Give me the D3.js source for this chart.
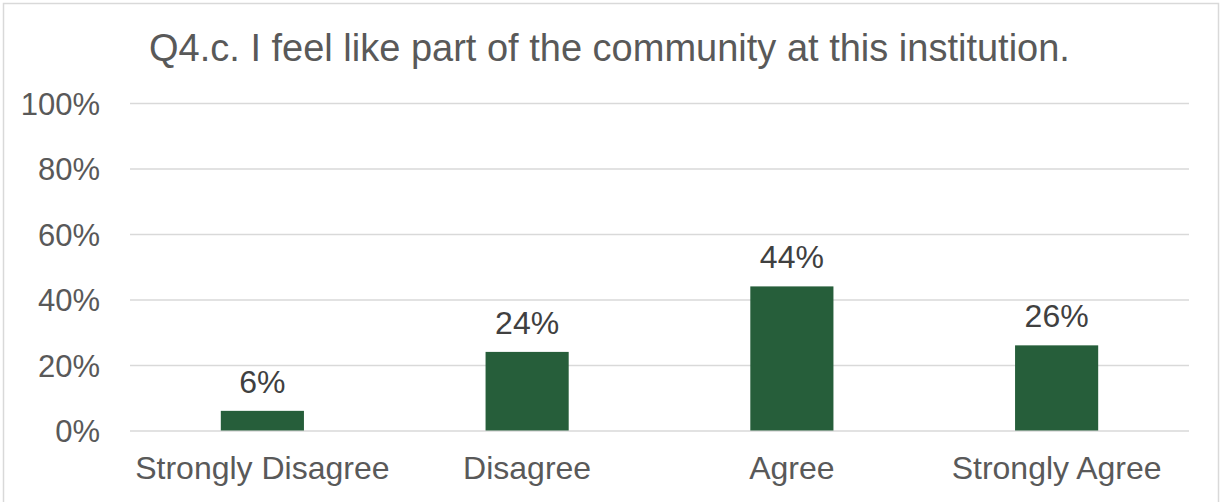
<!DOCTYPE html>
<html>
<head>
<meta charset="utf-8">
<script src="https://cdn.jsdelivr.net/npm/d3@7"></script>
<style>
  html, body { margin: 0; padding: 0; background: #fff; }
  svg { display: block; font-family: Arial, "Liberation Sans", sans-serif; }
</style>
</head>
<body>
<svg id="chart" width="1227" height="502"></svg>
<script>
const title = "Q4.c. I feel like part of the community at this institution.";
const categories = ["Strongly Disagree", "Disagree", "Agree", "Strongly Agree"];
const values = [0.06, 0.24, 0.44, 0.26];
const tickValues = [0, 0.2, 0.4, 0.6, 0.8, 1.0];

const W = 1227, H = 502;
const plot = { left: 130, right: 1189, top: 103, bottom: 430.5 };

const svg = d3.select("#chart");

// chart border
svg.append("rect")
  .attr("x", 3.5).attr("y", 3.5)
  .attr("width", 1215).attr("height", 510)
  .attr("fill", "#fff")
  .attr("stroke", "#d9d9d9")
  .attr("stroke-width", 1.5);

const x = d3.scaleBand()
  .domain(categories)
  .range([plot.left, plot.right])
  .paddingInner(0.686)
  .paddingOuter(0.343);

const y = d3.scaleLinear()
  .domain([0, 1])
  .range([plot.bottom, plot.top]);

// gridlines
const yAxis = d3.axisLeft(y)
  .tickValues(tickValues)
  .tickSize(-(plot.right - plot.left))
  .tickPadding(30)
  .tickFormat(d3.format(".0%"));

const gy = svg.append("g")
  .attr("transform", `translate(${plot.left},0)`)
  .call(yAxis);
gy.select(".domain").remove();
gy.selectAll(".tick line")
  .attr("stroke", "#d9d9d9")
  .attr("stroke-width", 1.3);
gy.selectAll(".tick text")
  .attr("fill", "#595959")
  .attr("font-size", 31)
  .attr("font-family", "Arial, 'Liberation Sans', sans-serif")
  .attr("dy", "0.36em");

// bars
svg.append("g").selectAll("rect")
  .data(values)
  .join("rect")
  .attr("x", (d, i) => x(categories[i]))
  .attr("y", d => y(d))
  .attr("width", x.bandwidth())
  .attr("height", d => y(0) - y(d))
  .attr("fill", "#265e3a");

// value labels
svg.append("g").selectAll("text")
  .data(values)
  .join("text")
  .attr("x", (d, i) => x(categories[i]) + x.bandwidth() / 2)
  .attr("y", d => y(d) - 18)
  .attr("text-anchor", "middle")
  .attr("fill", "#404040")
  .attr("font-size", 32)
  .text(d => d3.format(".0%")(d));

// x axis labels
const xAxis = d3.axisBottom(x).tickSize(0).tickPadding(0);
const gx = svg.append("g")
  .attr("transform", `translate(0,${plot.bottom})`)
  .call(xAxis);
gx.select(".domain").remove();
gx.selectAll(".tick text")
  .attr("fill", "#595959")
  .attr("font-size", 32)
  .attr("font-family", "Arial, 'Liberation Sans', sans-serif")
  .attr("y", 48)
  .attr("dy", 0);

// title
svg.append("text")
  .attr("x", 609.5)
  .attr("y", 61)
  .attr("text-anchor", "middle")
  .attr("fill", "#595959")
  .attr("font-size", 38)
  .text(title);
</script>
</body>
</html>
